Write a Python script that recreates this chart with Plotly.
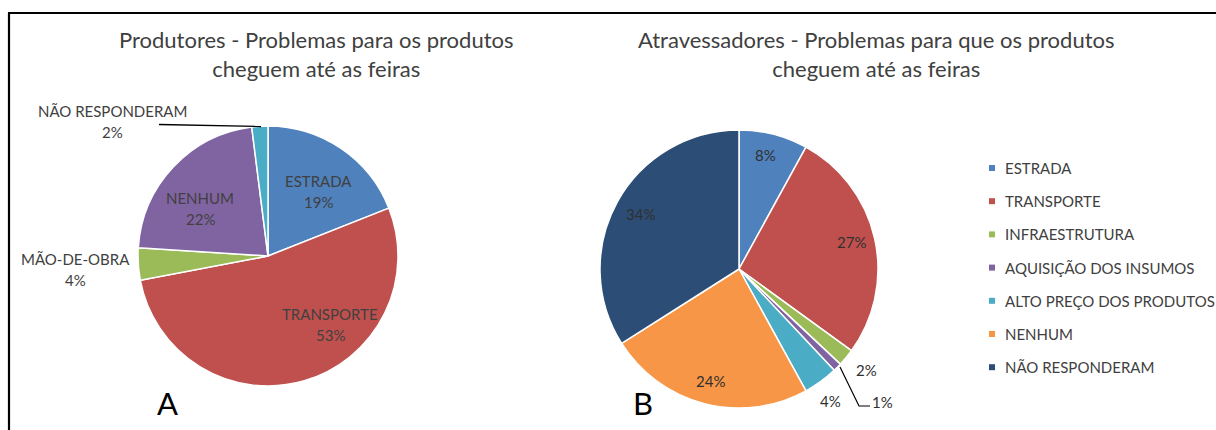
import plotly.graph_objects as go

W, H = 1216, 430
FONT = "Lato"
TXT = "#404040"

# ---- data ----
prod_labels = ["ESTRADA", "TRANSPORTE", "MÃO-DE-OBRA", "NENHUM", "NÃO RESPONDERAM"]
prod_values = [19, 53, 4, 22, 2]
prod_colors = ["#4F81BD", "#C0504D", "#9BBB59", "#8064A2", "#4BACC6"]

atrav_labels = ["ESTRADA", "TRANSPORTE", "INFRAESTRUTURA", "AQUISIÇÃO DOS INSUMOS",
                "ALTO PREÇO DOS PRODUTOS", "NENHUM", "NÃO RESPONDERAM"]
atrav_values = [8, 27, 2, 1, 4, 24, 34]
atrav_colors = ["#4F81BD", "#C0504D", "#9BBB59", "#8064A2", "#4BACC6", "#F79646", "#2C4D75"]

title_left = "Produtores - Problemas para os produtos<br>cheguem até as feiras"
title_right = "Atravessadores - Problemas para que os produtos<br>cheguem até as feiras"

# ---- layout helpers (pixel -> paper) ----
def px(x):
    return x / W

def py(y):
    return 1 - y / H

# pie geometry (pixels): center and radius
L_CX, L_CY, L_R = 268, 256, 130
R_CX, R_CY, R_R = 739, 269, 139

def dom(cx, cy, r):
    return dict(x=[px(cx - r), px(cx + r)], y=[py(cy + r), py(cy - r)])

fig = go.Figure()
fig.add_trace(go.Pie(
    labels=prod_labels, values=prod_values, sort=False, direction="clockwise",
    rotation=0, marker=dict(colors=prod_colors, line=dict(color="white", width=1.5)),
    textinfo="none", hoverinfo="label+percent", showlegend=False,
    domain=dom(L_CX, L_CY, L_R)))
fig.add_trace(go.Pie(
    labels=atrav_labels, values=atrav_values, sort=False, direction="clockwise",
    rotation=0, marker=dict(colors=atrav_colors, line=dict(color="white", width=1.5)),
    textinfo="none", hoverinfo="label+percent", showlegend=False,
    domain=dom(R_CX, R_CY, R_R)))

ann = []
shapes = []

def text(x, y, s, size=15, color=TXT, xanchor="center"):
    ann.append(dict(x=px(x), y=py(y), xref="paper", yref="paper", text=s,
                    showarrow=False, xanchor=xanchor, yanchor="middle",
                    font=dict(family=FONT, size=size, color=color)))

# titles
text(316, 54, title_left, size=22)
text(876, 54, title_right, size=22)

# left pie labels (label line + percent line)
left_pos = [(318, 181), (330, 314), (75, 259), (200, 198), (112, 111)]
for (x, y), lab, v in zip(left_pos, prod_labels, prod_values):
    text(x, y, lab)
    text(x, y + 21, f"{v}%")

# right pie percent labels
right_pos = [(765, 155), (851, 242), (867, 370), (882, 402), (830, 401), (710, 381), (640, 214)]
for (x, y), v in zip(right_pos, atrav_values):
    text(x, y, f"{v}%", color="#303030")

# leader lines
shapes.append(dict(type="line", xref="paper", yref="paper",
                   x0=px(159), y0=py(124.5), x1=px(261), y1=py(126.5),
                   line=dict(color="black", width=1.3)))
shapes.append(dict(type="path", xref="paper", yref="paper",
                   path=f"M {px(840)} {py(367)} L {px(859)} {py(406)} L {px(870)} {py(406)}",
                   line=dict(color="black", width=1.2)))

# panel letters
text(167, 403, "A", size=31, color="#000000")
text(643, 403, "B", size=31, color="#000000")

# legend (manual)
LEG_X, LEG_Y0, LEG_DY = 992, 168, 33.2
for i, (lab, c) in enumerate(zip(atrav_labels, atrav_colors)):
    y = LEG_Y0 + i * LEG_DY
    shapes.append(dict(type="rect", xref="paper", yref="paper",
                       x0=px(LEG_X - 3), x1=px(LEG_X + 3), y0=py(y + 3), y1=py(y - 3),
                       fillcolor=c, line=dict(width=0)))
    text(LEG_X + 11, y, lab, size=15, xanchor="left")

# outer frame (top and left lines)
shapes.append(dict(type="line", xref="paper", yref="paper", x0=px(8), y0=py(13), x1=px(1216), y1=py(13),
                   line=dict(color="black", width=2.2)))
shapes.append(dict(type="line", xref="paper", yref="paper", x0=px(9), y0=py(13), x1=px(9), y1=py(430),
                   line=dict(color="black", width=2.2)))

fig.update_layout(
    width=W, height=H, margin=dict(l=0, r=0, t=0, b=0),
    paper_bgcolor="white", plot_bgcolor="white",
    annotations=ann, shapes=shapes, showlegend=False,
    font=dict(family=FONT, color=TXT),
)

fig.write_html("out.html", config={"displayModeBar": False},
               post_script="document.body.style.margin='0';")
